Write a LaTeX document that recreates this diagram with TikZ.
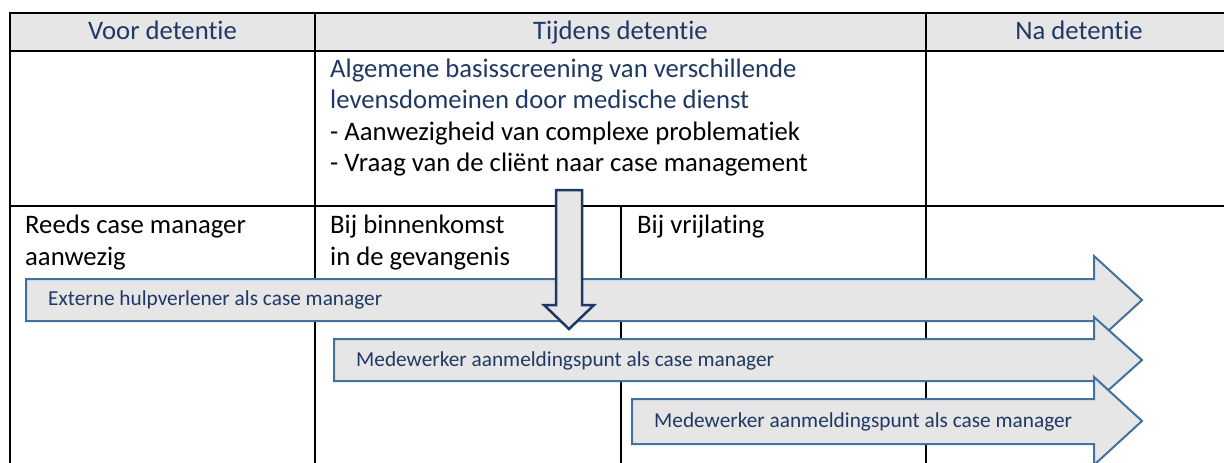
\documentclass[tikz,border=0pt]{standalone}
\usepackage{fontspec}
\setmainfont[Ligatures=NoCommon]{Carlito}
\definecolor{navy}{HTML}{1F3864}
\definecolor{hdrfill}{HTML}{E6E6E6}
\definecolor{arrowline}{HTML}{41719C}
\definecolor{txtblue}{HTML}{1F3864}
\begin{document}
\begin{tikzpicture}[x=1pt,y=-1pt,
  tbl/.style={line width=2pt, black},
  thin tbl/.style={line width=1.3pt, black},
  hdrtext/.style={font=\fontsize{26.7}{32}\selectfont, text=txtblue, anchor=base, inner sep=0pt},
  bodytext/.style={font=\fontsize{26.7}{32}\selectfont, anchor=base west, inner sep=0pt},
  arrowtext/.style={font=\fontsize{21.3}{26}\selectfont, text=txtblue, anchor=base west, inner sep=0pt},
  bigarrow/.style={draw=arrowline, fill=hdrfill, line width=2pt, line join=miter},
  downarrow/.style={draw=navy, fill=hdrfill, line width=2.5pt, line join=miter}]
\useasboundingbox (0,0) rectangle (1224,463);
\clip (0,0) rectangle (1224,463);
% header band
\fill[hdrfill] (10,13) rectangle (1240,51);
% table lines
\draw[tbl] (1240,13) -- (10,13) -- (10,470);
\draw[tbl] (10,51) -- (1240,51);
\draw[tbl] (10,206) -- (1240,206);
\draw[tbl] (315,13) -- (315,470);
\draw[tbl] (926,13) -- (926,470);
\draw[thin tbl] (621,206) -- (621,470);
% header texts
\node[hdrtext] (h1) at (162.5,39) {Voor detentie};
\node[hdrtext] (h2) at (620.5,39) {Tijdens detentie};
\node[hdrtext] (h3) at (1079,39) {Na detentie};
% row 1 texts
\node[bodytext, text=txtblue] (s1) at (330,77) {Algemene basisscreening van verschillende};
\node[bodytext, text=txtblue] (s2) at (330,108) {levensdomeinen door medische dienst};
\node[bodytext] (s3) at (330,140) {- Aanwezigheid van complexe problematiek};
\node[bodytext] (s4) at (330,171) {- Vraag van de cliënt naar case management};
% row 2 texts
\node[bodytext] (r1) at (25,233) {Reeds case manager};
\node[bodytext] (r2) at (25,265) {aanwezig};
\node[bodytext] (b1) at (330,233) {Bij binnenkomst};
\node[bodytext] (b2) at (330,265) {in de gevangenis};
\node[bodytext] (v1) at (637,233) {Bij vrijlating};
% horizontal arrows
\draw[bigarrow] (26,279) -- (1094,279) -- (1094,256) -- (1142,300) -- (1094,344) -- (1094,321) -- (26,321) -- cycle;
\node[arrowtext] (a1) at (48,305) {Externe hulpverlener als case manager};
\draw[bigarrow] (334,339) -- (1094,339) -- (1094,317) -- (1142,360) -- (1094,403) -- (1094,381) -- (334,381) -- cycle;
\node[arrowtext] (a2) at (356,366) {Medewerker aanmeldingspunt als case manager};
\draw[bigarrow] (632,399) -- (1094,399) -- (1094,377) -- (1142,421) -- (1094,465) -- (1094,444) -- (632,444) -- cycle;
\node[arrowtext] (a3) at (654,427) {Medewerker aanmeldingspunt als case manager};
% down arrow
\draw[downarrow] (556,190) -- (582,190) -- (582,305) -- (594,305) -- (569,329) -- (544,305) -- (556,305) -- cycle;
\end{tikzpicture}
\end{document}
